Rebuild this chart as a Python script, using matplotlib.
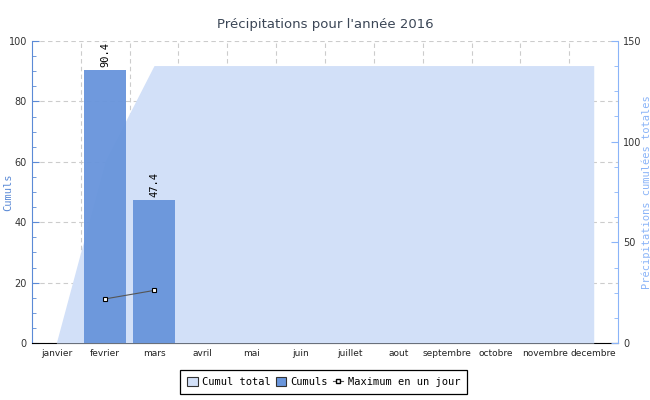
import matplotlib
matplotlib.use("Agg")
import matplotlib.pyplot as plt
from matplotlib.patches import Patch
from matplotlib.lines import Line2D
from matplotlib.ticker import MultipleLocator
import numpy as np

mois = ["janvier", "fevrier", "mars", "avril", "mai", "juin", "juillet",
        "aout", "septembre", "octobre", "novembre", "decembre"]
cumuls = [0, 90.4, 47.4, 0, 0, 0, 0, 0, 0, 0, 0, 0]
cumul_total = [0, 90.4, 137.8, 137.8, 137.8, 137.8, 137.8, 137.8, 137.8,
               137.8, 137.8, 137.8]
max_mois = ["fevrier", "mars"]
max_jour = [14.6, 17.4]

BAR = "#6a96dc"
AREA = "#d2e0f8"
mono = "DejaVu Sans Mono"

fig = plt.figure(figsize=(6.5, 4), dpi=100)
ax = fig.add_axes([0.049, 0.1425, 0.902, 0.755])
ax2 = ax.twinx()
ax3 = ax.twinx()
ax.set_zorder(1)
ax2.set_zorder(2)
ax3.set_zorder(3)
ax2.patch.set_visible(False)
ax3.patch.set_visible(False)

x = np.arange(len(mois))

# grid on the bottom axes
ax.set_xlim(-0.5, len(mois) - 0.5)
ax.set_ylim(0, 100)
ax.yaxis.set_major_locator(MultipleLocator(20))
ax.yaxis.set_minor_locator(MultipleLocator(5))
ax.set_xticks(x)
ax.set_xticks(x[:-1] + 0.5, minor=True)
ax.set_xticklabels(mois, fontsize=6.5, color="#222222")
ax.tick_params(axis="x", which="major", length=0, pad=4)
ax.tick_params(axis="x", which="minor", length=5, direction="in", color="black")
ax.grid(True, axis="y", which="major", ls=(0, (4, 3)), color="#cccccc", lw=0.8)
ax.grid(True, axis="x", which="minor", ls=(0, (4, 3)), color="#cccccc", lw=0.8)
ax.tick_params(axis="y", which="both", direction="in", color="#5b8ad6",
               labelsize=7, labelcolor="#333333")
ax.tick_params(axis="y", which="major", length=5)
ax.tick_params(axis="y", which="minor", length=3)
ax.set_ylabel("Cumuls", color="#5b8ad6", fontsize=7.5, family=mono)
ax.yaxis.set_label_coords(-0.032, 0.5)
ax.spines["top"].set_visible(False)
ax.spines["right"].set_visible(False)
ax.spines["left"].set_color("#5b8ad6")
ax.spines["bottom"].set_color("black")

# cumulative area on right axis
ax2.fill_between(x, cumul_total, color=AREA, lw=0)
ax2.set_ylim(0, 150)
ax2.yaxis.set_major_locator(MultipleLocator(50))
ax2.yaxis.set_minor_locator(MultipleLocator(12.5))
ax2.tick_params(axis="y", which="both", direction="in", color="#8ab4f8",
                labelsize=7, labelcolor="#333333")
ax2.tick_params(axis="y", which="major", length=5)
ax2.tick_params(axis="y", which="minor", length=3)
ax2.set_ylabel("Précipitations cumulées totales", color="#8ab4f8",
               fontsize=7.5, family=mono)
ax2.yaxis.set_label_coords(1.039, 0.5)
for s in ["top", "left", "bottom"]:
    ax2.spines[s].set_visible(False)
ax2.spines["right"].set_color("#8ab4f8")

# bars and max line on top
ax3.set_ylim(0, 100)
ax3.set_yticks([])
for s in ax3.spines.values():
    s.set_visible(False)
ax3.bar(x, cumuls, width=0.86, color=BAR, alpha=0.97)
for xi, v in zip(x, cumuls):
    if v > 0:
        ax3.text(xi, v + 1, f"{v}", rotation=90, ha="center", va="bottom",
                 fontsize=7.5, family=mono)
mx = [mois.index(m) for m in max_mois]
ax3.plot(mx, max_jour, color="#555555", lw=0.8, marker="s", ms=3,
         mfc="white", mec="black", mew=0.8)

fig.suptitle("Précipitations pour l'année 2016", y=0.955, fontsize=9.5,
             color="#3b4656")

handles = [
    Patch(facecolor=AREA, edgecolor="#333333", lw=0.8, label="Cumul total"),
    Patch(facecolor=BAR, edgecolor="#333333", lw=0.8, label="Cumuls"),
    Line2D([], [], color="#555555", lw=0.8, marker="s", ms=3, mfc="white",
           mec="black", label="Maximum en un jour"),
]
leg = fig.legend(handles=handles, loc="center", bbox_to_anchor=(0.498, 0.045),
                 ncol=3, fancybox=False, edgecolor="black", framealpha=1,
                 prop={"family": mono, "size": 7.5}, handlelength=1.0,
                 handleheight=1.0, handletextpad=0.4, columnspacing=0.5,
                 borderpad=0.7)
leg.get_frame().set_linewidth(0.9)

fig.savefig("out.png", dpi=100)
